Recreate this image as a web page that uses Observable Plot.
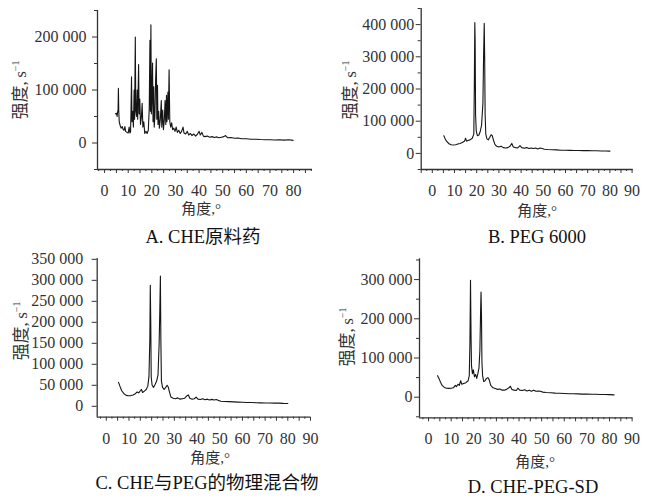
<!DOCTYPE html>
<html>
<head>
<meta charset="utf-8">
<script src="https://cdn.jsdelivr.net/npm/d3@7"></script>
<script src="https://cdn.jsdelivr.net/npm/@observablehq/plot@0.6"></script>
<style>
  html, body { margin: 0; padding: 0; background: #fff; }
  #root { position: relative; width: 656px; height: 498px; background: #fff; overflow: hidden;
          font-family: "Liberation Serif", "Times New Roman", "Noto Sans CJK SC", serif; color: #222; }
  #root svg, #root svg text { font-family: "Liberation Serif", "Times New Roman", serif !important; font-size: 16px !important; }
  .panel { position: absolute; }
  .lbl { position: absolute; transform: translate(-50%, -50%); white-space: nowrap; line-height: 1; }
  .ytitle { position: absolute; transform: translate(-50%, -50%) rotate(-90deg); white-space: nowrap; line-height: 1; font-size: 17px; color: #333; }
  .xtitle { font-size: 15px; color: #333; }
  .cap { font-size: 18.5px; color: #111; }
  sup { font-size: 10px; vertical-align: 7px; }
</style>
</head>
<body>
<div id="root"></div>
<script>
// ---------- data: [angle (2θ, °), intensity (s^-1)] ----------
const cheRaw = [
  [4.6,55000],[5.0,56000],[5.3,50000],[5.5,58000],[5.7,62000],[5.85,103000],[6.0,60000],[6.2,40000],[6.6,33000],
  [7.0,28000],[7.5,31000],[7.8,26000],[8.2,24000],[8.6,31000],[8.9,22000],[9.5,20000],[10.0,19000],[10.4,30000],
  [10.7,19000],[11.0,21000],[11.2,65000],[11.4,125000],[11.6,40000],[11.9,60000],[12.2,30000],[12.5,100000],
  [12.7,45000],[13.0,200000],[13.2,60000],[13.5,50000],[13.8,100000],[14.0,45000],[14.4,148000],[14.6,55000],
  [14.9,83000],[15.2,35000],[15.6,50000],[15.9,75000],[16.2,30000],[16.6,40000],[17.0,18000],[17.5,22000],
  [18.0,18000],[18.5,24000],[18.9,65000],[19.2,194000],[19.4,60000],[19.6,223000],[19.8,55000],[20.0,80000],
  [20.3,151000],[20.5,40000],[20.8,106000],[21.0,30000],[21.3,50000],[21.6,120000],[21.9,159000],[22.1,45000],
  [22.4,109000],[22.6,35000],[22.9,60000],[23.2,28000],[23.6,45000],[24.0,80000],[24.2,30000],[24.6,62000],
  [24.9,25000],[25.3,45000],[25.6,80000],[25.9,35000],[26.2,90000],[26.4,40000],[26.8,96000],[27.0,45000],
  [27.3,138000],[27.6,40000],[28.0,30000],[28.4,38000],[28.8,25000],[29.3,28000],[29.8,22000],[30.3,30000],
  [30.8,20000],[31.4,24000],[32.0,18000],[32.6,22000],[33.2,30000],[33.6,19000],[34.3,17000],[35.0,22000],
  [35.6,15000],[36.3,18000],[37.0,14000],[37.7,17000],[38.5,13000],[39.2,16000],[40.0,22000],[40.5,15000],
  [41.2,20000],[41.8,13000],[42.5,12000],[43.5,13000],[44.5,11000],[45.5,12000],[46.5,10500],[47.5,11500],
  [48.5,10000],[49.5,11000],[50.5,12000],[51.2,14000],[52.0,10000],[53.5,10500],[55.0,9000],[56.5,9500],
  [58.0,8000],[60.0,8000],[62.0,7000],[64.0,7200],[66.0,6500],[68.0,6000],[70.0,6000],[72.0,5800],[74.0,6000],
  [76.0,5500],[78.0,6000],[79.8,5000]
];
const peg6000 = [
  [5.2,55000],[5.8,45000],[6.5,37000],[7.5,30000],[8.5,27000],[9.5,26000],[10.5,27000],[11.5,29000],[12.5,31000],
  [13.5,34000],[14.5,38000],[15.0,47000],[15.4,38000],[16.0,40000],[17.0,42000],[18.0,47000],[18.7,60000],
  [18.95,222000],[19.15,406000],[19.3,350000],[19.5,120000],[19.8,70000],[20.3,55000],[21.0,57000],[21.6,68000],
  [22.2,88000],[22.8,155000],[23.1,300000],[23.4,404000],[23.6,290000],[23.8,120000],[24.1,60000],[24.6,45000],
  [25.2,42000],[25.9,50000],[26.5,58000],[27.0,55000],[27.6,40000],[28.2,28000],[29.0,22000],[30.0,20000],
  [31.0,22000],[32.0,18000],[33.0,17000],[34.0,18000],[35.0,22000],[35.8,31000],[36.5,20000],[37.5,18000],
  [38.5,17000],[39.5,24000],[40.3,18000],[41.5,16000],[42.5,18000],[43.5,15000],[44.5,17000],[45.5,15000],
  [46.5,17000],[47.5,14000],[48.5,17000],[49.5,15000],[50.5,13000],[52.0,12000],[54.0,11500],[56.0,11000],
  [58.0,10000],[60.0,10000],[62.0,9500],[64.0,9000],[66.0,9200],[68.0,8500],[70.0,8500],[72.0,8000],
  [74.0,8200],[76.0,7500],[78.0,7500],[80.0,7000]
];
const physMix = [
  [5.4,57000],[6.0,48000],[6.8,37000],[7.8,30000],[8.8,26000],[9.8,25000],[10.8,25500],[11.8,27000],[12.8,30000],
  [13.6,34000],[14.3,32000],[15.0,37000],[15.5,40000],[16.0,33000],[16.8,36000],[17.6,40000],[18.3,48000],
  [18.8,70000],[19.2,160000],[19.4,288000],[19.6,200000],[19.8,70000],[20.2,50000],[20.8,45000],[21.5,52000],
  [22.2,60000],[22.8,75000],[23.3,150000],[23.6,230000],[23.85,310000],[24.05,160000],[24.3,60000],[24.8,45000],
  [25.5,40000],[26.2,45000],[26.8,50000],[27.3,46000],[27.8,35000],[28.5,22000],[29.5,19000],[30.5,18000],
  [31.5,20000],[32.5,17000],[33.5,18000],[34.5,19000],[35.5,25000],[36.2,27000],[36.8,19000],[37.8,17000],
  [38.8,18000],[39.6,22000],[40.4,17000],[41.5,16000],[42.5,18000],[43.5,15500],[44.5,17000],[45.5,15000],
  [46.5,16500],[47.5,15000],[48.5,16000],[49.5,14000],[50.5,12000],[52.0,11500],[54.0,11000],[56.0,10500],
  [58.0,10000],[60.0,9500],[62.0,9000],[64.0,9000],[66.0,8500],[68.0,8200],[70.0,8000],[72.0,7800],
  [74.0,7500],[76.0,7500],[78.0,7000],[80.0,6800]
];
const chePegSD = [
  [4.0,55000],[4.6,48000],[5.3,38000],[6.0,30000],[7.0,25000],[8.0,23000],[9.0,22500],[10.0,23000],[11.0,24000],
  [11.8,30000],[12.3,27000],[13.0,33000],[13.6,30000],[14.2,42000],[14.7,33000],[15.5,35000],[16.5,37000],
  [17.5,42000],[18.0,55000],[18.3,140000],[18.55,298000],[18.8,150000],[19.0,80000],[19.4,60000],[19.8,70000],
  [20.3,52000],[20.8,58000],[21.3,48000],[21.8,60000],[22.3,75000],[22.7,120000],[23.0,215000],[23.2,268000],
  [23.4,210000],[23.6,90000],[23.9,55000],[24.4,40000],[25.0,42000],[25.6,48000],[26.2,50000],[26.8,45000],
  [27.5,30000],[28.5,24000],[29.5,22000],[30.5,20000],[31.5,21000],[32.5,18000],[33.5,18000],[34.5,20000],
  [35.5,24000],[36.2,28000],[36.8,20000],[37.8,18000],[38.8,17000],[39.5,23000],[40.3,18000],[41.5,17000],
  [42.5,19000],[43.5,16000],[44.5,18000],[45.5,15500],[46.5,18000],[47.5,15000],[48.5,16000],[49.5,15000],
  [50.5,13000],[52.0,12000],[54.0,11500],[56.0,10500],[58.0,10000],[60.0,9500],[62.0,9000],[64.0,8800],
  [66.0,8500],[68.0,8000],[70.0,8000],[72.0,7500],[74.0,7500],[76.0,7000],[78.0,7000],[80.0,6500],[82.0,6000]
];

// tick values
const xLabelsA = [0,10,20,30,40,50,60,70,80];
const xLabelsBCD = [0,10,20,30,40,50,60,70,80,90];
const yMajorA = [0,100000,200000];
const yMinorA = [-50000,50000,150000,250000];
const yMajorB = [0,100000,200000,300000,400000];
const yMinorB = [-50000,50000,150000,250000,350000,450000];
const yMajorC = [0,50000,100000,150000,200000,250000,300000,350000];
const yMinorC = [];
const yMajorD = [0,100000,200000,300000];
const yMinorD = [-50000,50000,150000,250000,350000];

// texts
const yTitle = "强度,&#8201;s<sup>−1</sup>";
const xTitle = "角度,°";
const captions = ["A. CHE原料药", "B. PEG 6000", "C. CHE与PEG的物理混合物", "D. CHE-PEG-SD"];

// ---------- drawing ----------
const fmtY = d => d === 0 ? "0" : d3.format(",")(d).replace(/,/g, " ");
const axisColor = "#333";

function panel(cfg) {
  const {data, xDomain, yDomain, xLabels, yMajor, yMinor, yPad} = cfg;
  const fives = d3.range(Math.ceil(xDomain[0] / 5) * 5, xDomain[1] + 0.01, 5);
  const halves = d3.range(Math.ceil(xDomain[0] / 2.5) * 2.5, xDomain[1] + 0.01, 2.5).filter(v => v % 5 !== 0);
  const svg = Plot.plot({
    width: cfg.width, height: cfg.height,
    marginLeft: cfg.ml, marginRight: cfg.mr, marginTop: cfg.mt, marginBottom: cfg.mb,
    style: {fontSize: "16px", background: "transparent", overflow: "visible"},
    x: {domain: xDomain, label: null},
    y: {domain: yDomain, label: null},
    marks: [
      Plot.axisX({ticks: fives, tickSize: 4, tickPadding: 11, stroke: axisColor, fill: axisColor,
                  tickFormat: d => xLabels.includes(d) ? String(d) : ""}),
      Plot.axisX({ticks: halves, tickSize: 2, tickFormat: () => "", stroke: axisColor}),
      Plot.axisY({ticks: yMajor, tickSize: 5, tickPadding: yPad, stroke: axisColor, fill: axisColor, tickFormat: fmtY}),
      Plot.axisY({ticks: yMinor, tickSize: 3, tickFormat: () => "", stroke: axisColor}),
      Plot.ruleX([xDomain[0]], {stroke: axisColor, strokeWidth: 1.3}),
      Plot.ruleY([yDomain[0]], {stroke: axisColor, strokeWidth: 1.3}),
      Plot.line(data, {x: d => d[0], y: d => d[1], stroke: "#151515", strokeWidth: 1.1, strokeLinejoin: "round"})
    ]
  });
  const wrap = document.createElement("div");
  wrap.className = "panel";
  wrap.style.left = cfg.left + "px";
  wrap.style.top = cfg.top + "px";
  wrap.appendChild(svg);
  return wrap;
}

function label(cls, html, x, y) {
  const el = document.createElement("div");
  el.className = cls;
  el.innerHTML = html;
  el.style.left = x + "px";
  el.style.top = y + "px";
  return el;
}

const root = document.getElementById("root");
root.appendChild(panel({data: cheRaw, left: 0, top: 0, width: 330, height: 205, ml: 97, mr: 18, mt: 10, mb: 36,
  xDomain: [-3, 88], yDomain: [-50000, 250000], xLabels: xLabelsA, yMajor: yMajorA, yMinor: yMinorA, yPad: 6}));
root.appendChild(panel({data: peg6000, left: 330, top: 0, width: 326, height: 205, ml: 90.7, mr: 23.3, mt: 8, mb: 36,
  xDomain: [-5, 90.5], yDomain: [-50000, 450000], xLabels: xLabelsBCD, yMajor: yMajorB, yMinor: yMinorB, yPad: 2}));
root.appendChild(panel({data: physMix, left: 0, top: 245, width: 330, height: 200, ml: 96.7, mr: 20, mt: 13, mb: 28.3,
  xDomain: [-4, 90], yDomain: [-26000, 352000], xLabels: xLabelsBCD, yMajor: yMajorC, yMinor: yMinorC, yPad: 9}));
root.appendChild(panel({data: chePegSD, left: 330, top: 245, width: 326, height: 200, ml: 89, mr: 23.7, mt: 13.3, mb: 27.7,
  xDomain: [-4, 90.3], yDomain: [-52500, 353000], xLabels: xLabelsBCD, yMajor: yMajorD, yMinor: yMinorD, yPad: 2}));

// axis titles and captions
root.appendChild(label("ytitle", yTitle, 20, 90));
root.appendChild(label("ytitle", yTitle, 350, 90));
root.appendChild(label("ytitle", yTitle, 21, 331));
root.appendChild(label("ytitle", yTitle, 347, 337));
root.appendChild(label("lbl xtitle", xTitle, 201, 209));
root.appendChild(label("lbl xtitle", xTitle, 537, 211));
root.appendChild(label("lbl xtitle", xTitle, 210, 458));
root.appendChild(label("lbl xtitle", xTitle, 535, 462));
root.appendChild(label("lbl cap", captions[0], 203, 237));
root.appendChild(label("lbl cap", captions[1], 537, 237));
root.appendChild(label("lbl cap", captions[2], 207, 483));
root.appendChild(label("lbl cap", captions[3], 533, 487));
</script>
</body>
</html>
